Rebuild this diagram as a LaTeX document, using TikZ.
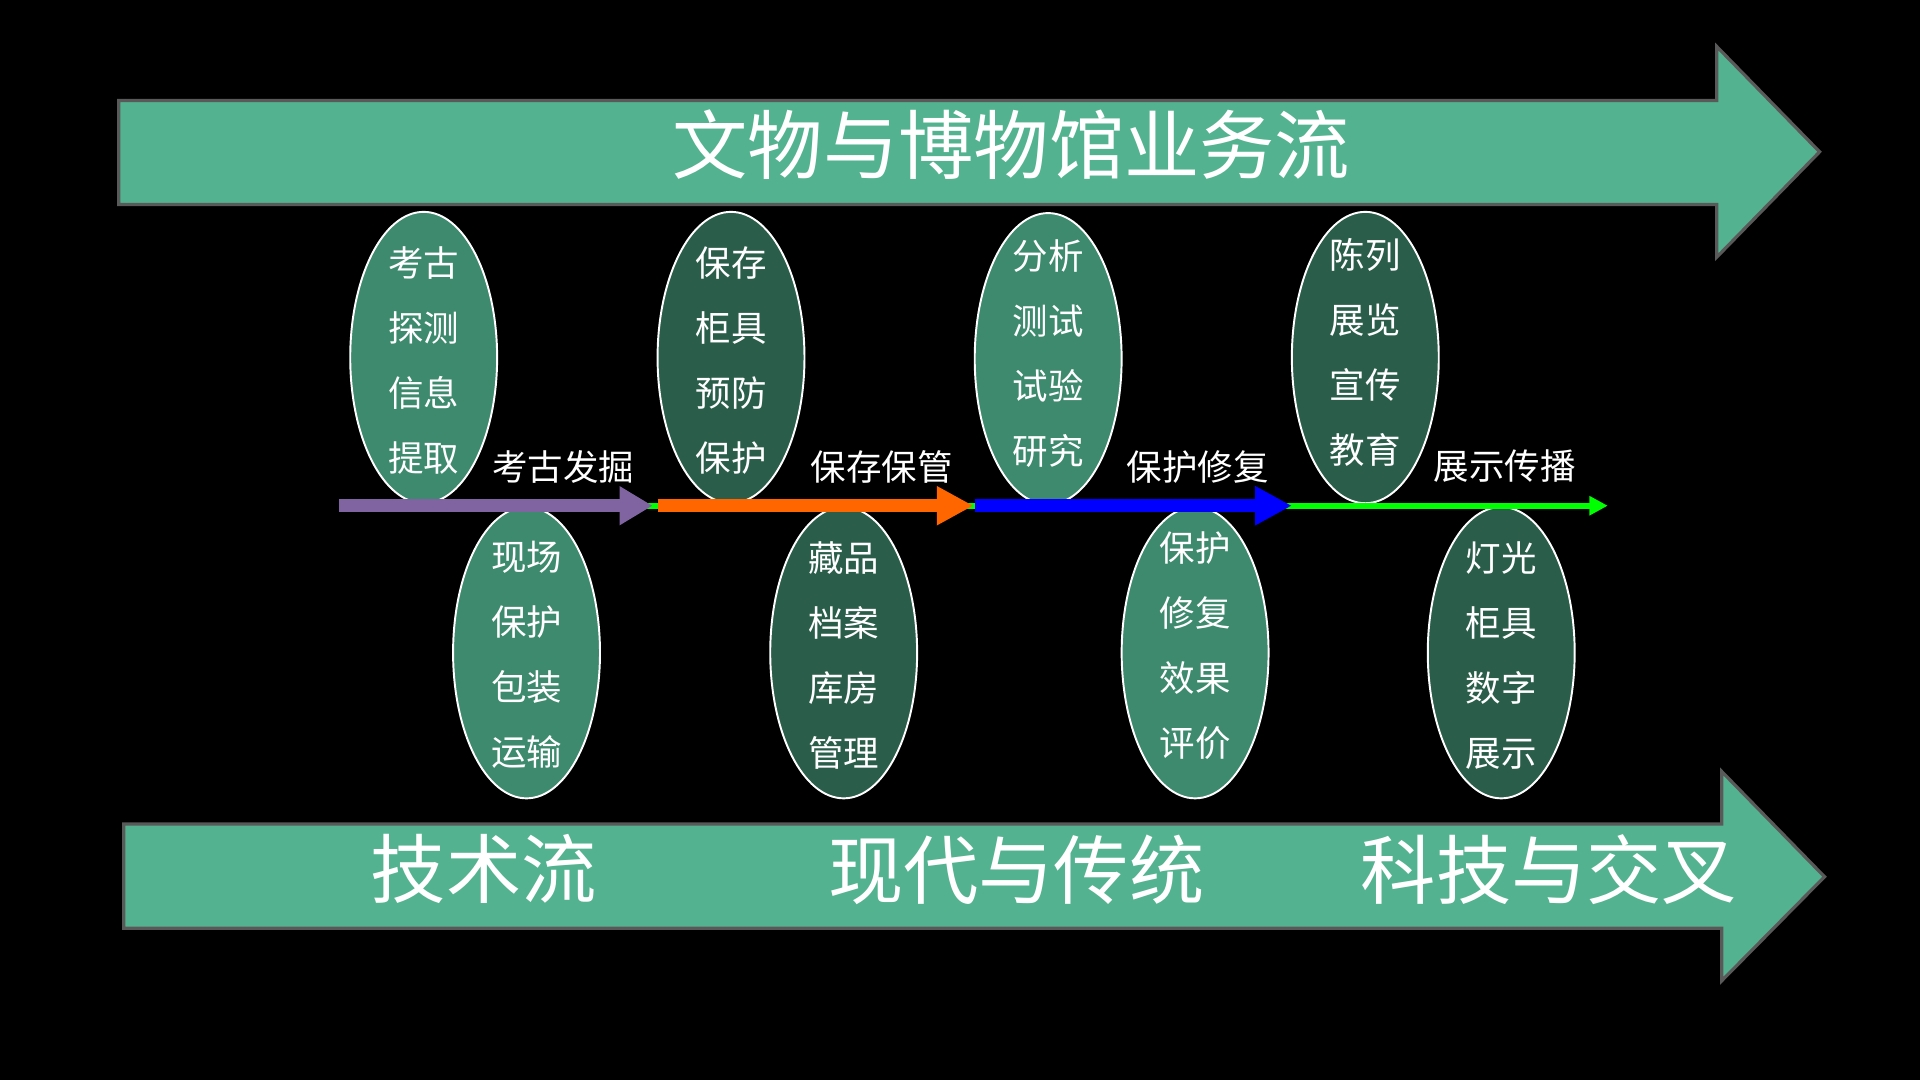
\documentclass[tikz,border=0pt]{standalone}
\usepackage{fontspec}
\usetikzlibrary{shapes, arrows.meta, positioning}
\newfontfamily\cjk{Noto Sans CJK SC}
\definecolor{bandgreen}{RGB}{83,179,145}
\definecolor{bandedge}{RGB}{89,89,89}
\definecolor{ovallight}{RGB}{61,138,110}
\definecolor{ovaldark}{RGB}{42,94,75}
\definecolor{flowpurple}{RGB}{128,100,162}
\definecolor{floworange}{RGB}{255,102,0}
\definecolor{flowblue}{RGB}{0,0,255}
\definecolor{flowgreen}{RGB}{0,255,0}
\tikzset{
	band/.style={fill=bandgreen, draw=bandedge, line width=1.5pt, line join=miter},
	oval/.style={ellipse, draw=white, line width=0.9pt, minimum width=2.4cm, minimum height=4.76cm, inner sep=0pt},
	ovaltext/.style={text=white, align=center, inner sep=0pt, font=\cjk\fontsize{16.5}{30.2}\selectfont},
	stagetext/.style={text=white, inner sep=0pt, font=\cjk\fontsize{16.5}{20}\selectfont},
	bigtext/.style={text=white, inner sep=0pt, font=\cjk\fontsize{35}{40}\selectfont},
	flow/.style={line width=6pt, -{Triangle[length=0.6cm, width=0.6cm]}},
}
\begin{document}
\begin{tikzpicture}[x=0.02cm, y=-0.02cm]
	\useasboundingbox (0,0) rectangle (1568,882); 
	\fill[black] (0,0) rectangle (1568,882); 

	\draw[band] (97,82) -- (1402,82) -- (1402,38) -- (1486,124) -- (1402,210) -- (1402,167) -- (97,167) -- cycle; 
	\draw[band] (101,673) -- (1406,673) -- (1406,630) -- (1490,716) -- (1406,801) -- (1406,758) -- (101,758) -- cycle; 
	\node[bigtext] (title) at (826,118) {文物与博物馆业务流}; 
	\node[bigtext] (tech) at (395,710) {技术流}; 
	\node[bigtext] (modern) at (830,710) {现代与传统}; 
	\node[bigtext] (cross) at (1265,710) {科技与交叉}; 

	\foreach \nm/\x/\y/\c/\dy/\t in {
		dig/346/292/ovallight/-1.2pt/{考古\\探测\\信息\\提取},
		keep/597/292/ovaldark/-1.2pt/{保存\\柜具\\预防\\保护},
		lab/856/293/ovallight/2.4pt/{分析\\测试\\试验\\研究},
		show/1115/292/ovaldark/2.4pt/{陈列\\展览\\宣传\\教育},
		site/430/533/ovallight/-1.2pt/{现场\\保护\\包装\\运输},
		store/689/533/ovaldark/-1.2pt/{藏品\\档案\\库房\\管理},
		fix/976/533/ovallight/3.4pt/{保护\\修复\\效果\\评价},
		light/1226/533/ovaldark/-1.2pt/{灯光\\柜具\\数字\\展示}} {
		\node[oval, fill=\c] (\nm) at (\x,\y) {}; 
		\node[ovaltext] (\nm-t) at ([yshift=\dy]\nm.center) {\t}; 
	}

	\coordinate (p0) at (277,413); 
	\coordinate (p1) at (533,413); 
	\coordinate (o0) at (537,413); 
	\coordinate (o1) at (795,413); 
	\coordinate (b0) at (796,413); 
	\coordinate (b1) at (1055,413); 
	\coordinate (g1) at (1313,413); 
	\draw[flowgreen, line width=2.8pt, -{Triangle[length=0.3cm, width=0.3cm]}] (p0) -- (g1); 
	\draw[flow, flowpurple, -{Triangle[length=0.54cm, width=0.6cm]}] (p0) -- (p1); 
	\draw[flow, floworange] (o0) -- (o1); 
	\draw[flow, flowblue] (b0) -- (b1); 

	\node[stagetext] (s1) at (460,381) {考古发掘}; 
	\node[stagetext] (s2) at (720,381) {保存保管}; 
	\node[stagetext] (s3) at (978,381) {保护修复}; 
	\node[stagetext] (s4) at (1229,381) {展示传播}; 
\end{tikzpicture}
\end{document}
